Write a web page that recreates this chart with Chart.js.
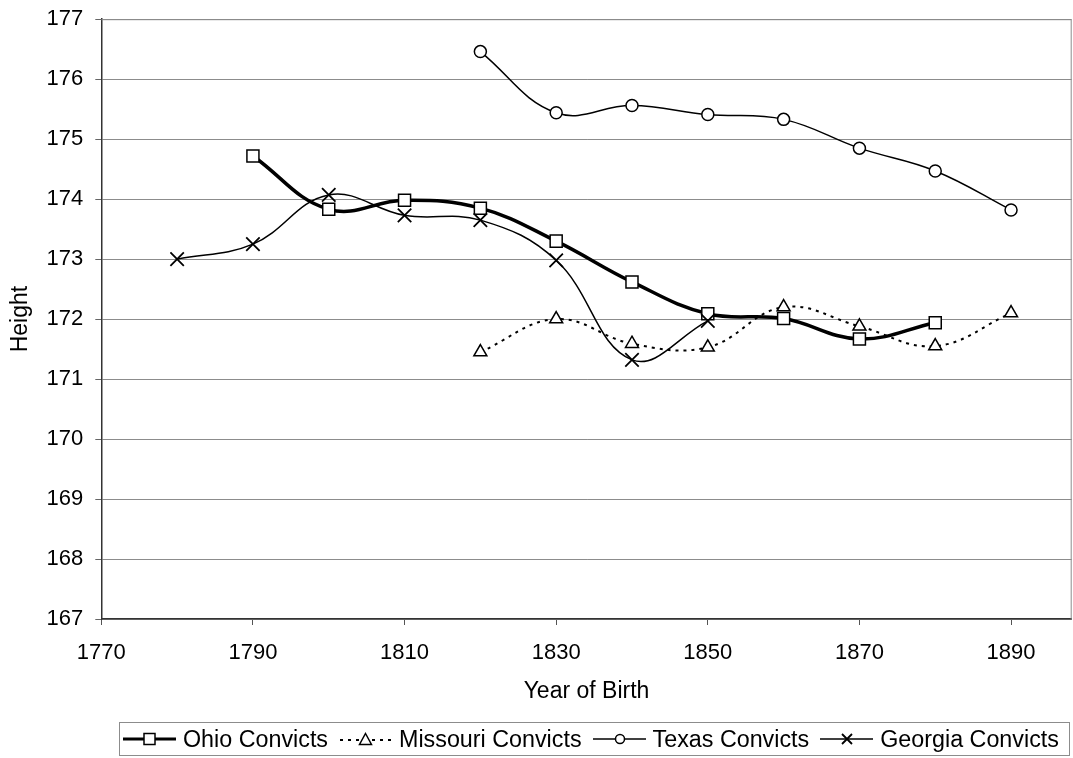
<!DOCTYPE html>
<html>
<head>
<meta charset="utf-8">
<script src="https://cdn.jsdelivr.net/npm/chart.js@4"></script>
<style>
html,body{margin:0;padding:0;background:#fff;overflow:hidden;}
#wrap{position:relative;width:1073px;height:758px;overflow:hidden;}
#c{position:absolute;left:0;top:-6px;}
#legend{position:absolute;left:119px;top:722px;width:951px;height:34px;border:1px solid #8c8c8c;
  display:flex;align-items:center;padding-left:3px;box-sizing:border-box;
  font-family:"Liberation Sans",Arial,sans-serif;font-size:23.3px;color:#000;white-space:nowrap;}
.item{display:flex;align-items:center;margin-right:11px;}
.item svg{display:block;margin-right:7px;}
</style>
</head>
<body>
<div id="wrap">
  <canvas id="c" width="1083" height="764"></canvas>
  <div id="legend"></div>
</div>
<script>
// ---- data ----
const years = [1780, 1790, 1800, 1810, 1820, 1830, 1840, 1850, 1860, 1870, 1880, 1890];
const ohio     = [null, 174.72, 173.83, 173.98, 173.85, 173.30, 172.62, 172.09, 172.01, 171.67, 171.94, null];
const missouri = [null, null, null, null, 171.45, 172.00, 171.59, 171.53, 172.20, 171.88, 171.55, 172.10];
const texas    = [null, null, null, null, 176.46, 175.44, 175.56, 175.41, 175.33, 174.85, 174.47, 173.82];
const georgia  = [173.00, 173.25, 174.07, 173.73, 173.65, 172.98, 171.32, 171.97, null, null, null, null];
const seriesNames = ["Ohio Convicts", "Missouri Convicts", "Texas Convicts", "Georgia Convicts"];
const xTicks = [1770, 1790, 1810, 1830, 1850, 1870, 1890];
const yMin = 167, yMax = 177;

function pts(vals) {
  const out = [];
  vals.forEach((v, i) => { if (v !== null) out.push({x: years[i], y: v}); });
  return out;
}

const FONT = '"Liberation Sans", Arial, sans-serif';

const plotBorder = {
  id: 'plotBorder',
  beforeDatasetsDraw(chart) {
    const {ctx, chartArea: a} = chart;
    ctx.save();
    ctx.strokeStyle = '#8c8c8c';
    ctx.lineWidth = 1;
    ctx.beginPath();
    ctx.moveTo(a.left, a.top + 0.5);
    ctx.lineTo(a.right - 0.5, a.top + 0.5);
    ctx.lineTo(a.right - 0.5, a.bottom);
    ctx.stroke();
    ctx.restore();
  }
};

const common = {
  borderColor: '#000',
  pointBorderColor: '#000',
  pointBackgroundColor: '#fff',
  pointBorderWidth: 1.5,
  tension: 0.4,
  fill: false,
  pointHoverRadius: 0
};

new Chart(document.getElementById('c'), {
  type: 'line',
  data: {
    datasets: [
      Object.assign({}, common, {label: seriesNames[0], data: pts(ohio), borderWidth: 3.5,
        pointStyle: 'rect', pointRadius: 8.5, order: 4}),
      Object.assign({}, common, {label: seriesNames[1], data: pts(missouri), borderWidth: 2,
        borderDash: [3, 5], pointStyle: 'triangle', pointRadius: 7.5, order: 3}),
      Object.assign({}, common, {label: seriesNames[2], data: pts(texas), borderWidth: 1.5,
        pointStyle: 'circle', pointRadius: 6, order: 2}),
      Object.assign({}, common, {label: seriesNames[3], data: pts(georgia), borderWidth: 1.5,
        pointStyle: 'crossRot', pointRadius: 9.5, pointBorderWidth: 1.8, order: 1})
    ]
  },
  options: {
    responsive: false,
    animation: false,
    events: [],
    layout: {padding: {left: 3, top: 18, right: 0, bottom: 49}},
    plugins: {legend: {display: false}, tooltip: {enabled: false}},
    scales: {
      x: {
        type: 'linear',
        min: 1770,
        max: 1898,
        afterBuildTicks: (axis) => { axis.ticks = xTicks.map(v => ({value: v})); },
        grid: {display: true, drawOnChartArea: false, drawTicks: true, tickLength: 6, tickColor: '#555'},
        border: {display: true, color: '#333', width: 1.5},
        ticks: {font: {family: FONT, size: 22}, color: '#000', padding: 15, maxRotation: 0,
          callback: (v) => String(v)},
        title: {display: true, text: 'Year of Birth', font: {family: FONT, size: 23}, color: '#000',
          padding: {top: -4, bottom: 4}}
      },
      y: {
        min: yMin,
        max: yMax,
        ticks: {stepSize: 1, font: {family: FONT, size: 22}, color: '#000', padding: 12},
        grid: {color: '#8c8c8c', lineWidth: 1, tickLength: 6, tickColor: '#666'},
        border: {display: true, color: '#333', width: 1.5},
        title: {display: true, text: 'Height', font: {family: FONT, size: 23}, color: '#000',
          padding: {top: 4, bottom: 0}}
      }
    }
  },
  plugins: [plotBorder]
});

// ---- legend (HTML) ----
const samples = [
  '<svg width="53" height="20"><line x1="0" y1="10" x2="53" y2="10" stroke="#000" stroke-width="3"/><rect x="21" y="4.5" width="11" height="11" fill="#fff" stroke="#000" stroke-width="1.5"/></svg>',
  '<svg width="53" height="20"><line x1="1" y1="11" x2="53" y2="11" stroke="#000" stroke-width="2" stroke-dasharray="3,5"/><polygon points="26.5,4.5 32.5,15.5 20.5,15.5" fill="#fff" stroke="#000" stroke-width="1.5"/></svg>',
  '<svg width="53" height="20"><line x1="0" y1="10" x2="53" y2="10" stroke="#000" stroke-width="1.5"/><circle cx="27" cy="10" r="4.5" fill="#fff" stroke="#000" stroke-width="1.5"/></svg>',
  '<svg width="53" height="20"><line x1="0" y1="10" x2="53" y2="10" stroke="#000" stroke-width="1.5"/><path d="M22,5 L32,15 M32,5 L22,15" stroke="#000" stroke-width="1.8"/></svg>'
];
document.getElementById('legend').innerHTML = seriesNames.map((n, i) =>
  '<span class="item">' + samples[i] + '<span>' + n + '</span></span>').join('');
</script>
</body>
</html>
